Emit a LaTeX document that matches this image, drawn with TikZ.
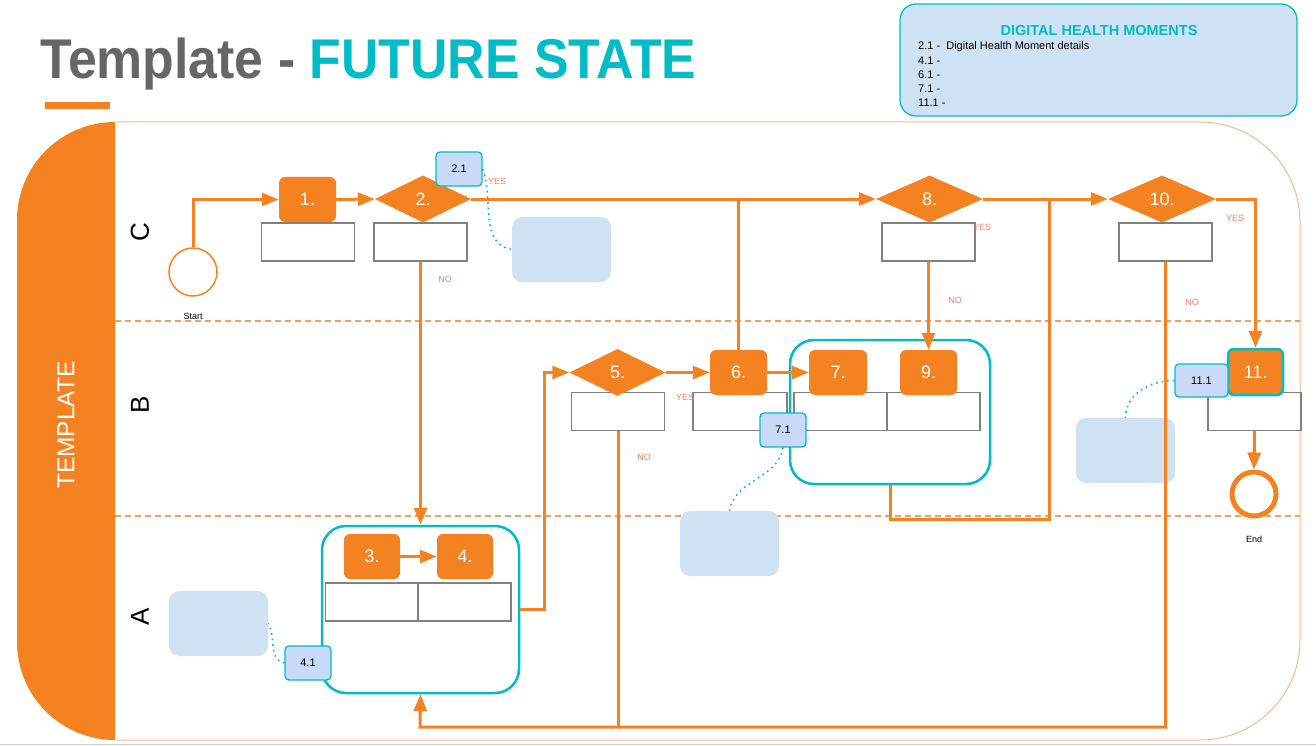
\documentclass[tikz,border=0pt]{standalone}
\usepackage{fontspec}
\setmainfont{Liberation Sans}
\usetikzlibrary{arrows.meta,shapes.geometric,positioning,calc}
\definecolor{orange}{RGB}{245,130,32}
\definecolor{teal}{RGB}{0,188,198}
\definecolor{noteblue}{RGB}{207,226,243}
\definecolor{badgeblue}{RGB}{201,218,248}
\definecolor{titlegray}{RGB}{102,102,102}
\definecolor{yesno}{RGB}{243,128,100}
\definecolor{poolline}{RGB}{248,184,139}
\definecolor{laneline}{RGB}{245,160,90}

\begin{document}
\begin{tikzpicture}[x=1pt, y=-1pt,
    flow/.style={orange, line width=3pt},
    arrowflow/.style={flow, -{Triangle[length=17pt,width=13pt]}},
    task/.style={fill=orange, rounded corners=6pt, minimum width=57pt, minimum height=45pt,
        text=white, font=\fontsize{18}{18}\selectfont},
    gate/.style={diamond, fill=orange, aspect=2, inner sep=0pt, minimum width=96pt,
        minimum height=47pt, text=white, font=\fontsize{18}{18}\selectfont},
    box/.style={draw=gray, line width=1.2pt, fill=white, minimum width=93pt, minimum height=38pt},
    badge/.style={draw=teal, line width=1.3pt, fill=badgeblue, rounded corners=4pt,
        minimum width=46pt, minimum height=34pt, font=\fontsize{11}{11}\selectfont},
    note/.style={fill=noteblue, rounded corners=10pt, minimum width=99pt, minimum height=65pt},
    group/.style={draw=teal, line width=2.5pt, rounded corners=24pt},
    link/.style={teal, line width=1.6pt, dash pattern=on 1.6pt off 4pt},
    answer/.style={text=yesno, font=\fontsize{9}{9}\selectfont},
    lanelabel/.style={rotate=90, font=\fontsize{26}{26}\selectfont}]
    \useasboundingbox (0,0) rectangle (1316,746);

    % title and legend
    \node[anchor=base west, inner sep=0pt, font=\bfseries\fontsize{56}{56}\selectfont] (title) at (40,79)
        {\scalebox{0.925}[1]{\textcolor{titlegray}{Template -} \textcolor{teal}{FUTURE STATE}}};
    \fill[orange] (45,102) rectangle (110,109);
    \node[draw=teal, line width=1.3pt, fill=noteblue, rounded corners=16pt,
        minimum width=397pt, minimum height=112pt] (legend) at (1098.5,60) {};
    \node[text=teal, font=\bfseries\fontsize{14.5}{14.5}\selectfont] (legendtitle) at (1099,31) {DIGITAL HEALTH MOMENTS};
    \node[anchor=west, inner sep=0pt, font=\fontsize{11}{11}\selectfont] (dhm21) at (918,47) {2.1 -\ \ Digital Health Moment details};
    \node[anchor=west, inner sep=0pt, font=\fontsize{11}{11}\selectfont] (dhm41) at (918,61) {4.1 -};
    \node[anchor=west, inner sep=0pt, font=\fontsize{11}{11}\selectfont] (dhm61) at (918,75) {6.1 -};
    \node[anchor=west, inner sep=0pt, font=\fontsize{11}{11}\selectfont] (dhm71) at (918,89) {7.1 -};
    \node[anchor=west, inner sep=0pt, font=\fontsize{11}{11}\selectfont] (dhm111) at (918,103) {11.1 -};

    % pool and lanes
    \fill[orange] (115,122) arc[start angle=270, end angle=180, radius=98] -- (17,642)
        arc[start angle=180, end angle=90, radius=98] -- cycle;
    \draw[poolline, line width=1pt] (115,122) -- (1200,122) arc[start angle=270, end angle=360, radius=100]
        -- (1300,640) arc[start angle=0, end angle=90, radius=100] -- (115,740);
    \draw[black!20, line width=1pt] (0,744.5) -- (1316,744.5);
    \draw[laneline, line width=1.3pt, dash pattern=on 6pt off 4pt] (115,321) -- (1300,321);
    \draw[laneline, line width=1.3pt, dash pattern=on 6pt off 4pt] (115,516) -- (1300,516);
    \node[rotate=90, text=white, font=\fontsize{24.5}{24.5}\selectfont] (pool) at (66,425) {TEMPLATE};
    \node[lanelabel] (laneC) at (140,232) {C};
    \node[lanelabel] (laneB) at (140,405) {B};
    \node[lanelabel] (laneA) at (140,617) {A};

    % lane C
    \node[circle, draw=orange, line width=1.5pt, minimum size=48pt] (start) at (193,272) {};
    \node[below=13pt of start, font=\fontsize{9}{9}\selectfont] (startlabel) {Start};
    \node[box] (b1) at (308,242) {};
    \node[task] (t1) at (307.5,199.5) {1.};
    \node[box] (b2) at (420.5,242) {};
    \node[gate] (g2) at (423,199) {2.};
    \node[note] (note2) at (561.5,249.5) {};
    \node[box] (b8) at (928.5,242) {};
    \node[gate, minimum width=107pt] (g8) at (929.5,199) {8.};
    \node[box] (b10) at (1165.5,242) {};
    \node[gate, minimum width=108pt] (g10) at (1162,199) {10.};

    % lane B
    \node[group, minimum width=200pt, minimum height=144pt] (grpB) at (890,412) {};
    \node[box] (b5) at (618,411.5) {};
    \node[gate] (g5) at (617.5,372.5) {5.};
    \node[box, minimum width=94pt] (b6) at (740,411.5) {};
    \node[task] (t6) at (738.5,372.5) {6.};
    \node[box] (b7) at (840.5,411.5) {};
    \node[box] (b9) at (933.5,411.5) {};
    \node[task, minimum width=58pt] (t7) at (838,372.5) {7.};
    \node[task] (t9) at (928.5,372.5) {9.};
    \node[box] (b11) at (1254.5,411.5) {};
    \node[task, draw=teal, line width=2.5pt, minimum width=55pt, minimum height=46pt] (t11) at (1255.5,372) {11.};
    \node[note] (note11) at (1125.5,450.5) {};
    \node[circle, draw=orange, line width=5pt, minimum size=44pt] (end) at (1254,494) {};
    \node[below=14pt of end, font=\fontsize{9}{9}\selectfont] (endlabel) {End};

    % lane A
    \node[group, minimum width=197pt, minimum height=167pt] (grpA) at (420.5,609.5) {};
    \node[box] (b3) at (372,602) {};
    \node[box] (b4) at (464.5,602) {};
    \node[task, minimum width=56pt] (t3) at (372,556.5) {3.};
    \node[task, minimum width=56pt] (t4) at (465,556.5) {4.};
    \node[note] (note4) at (218.5,623.5) {};
    \node[note] (note7) at (729.5,543.5) {};

    % connectors
    \coordinate (loopback) at (420,727);
    \coordinate (merge8) at (1049,199);
    \draw[arrowflow] (start.north) |- (t1.west);
    \draw[arrowflow] (t1.east) -- (g2.west);
    \draw[arrowflow] (g2.east) -- (g8.west);
    \draw[arrowflow] (b2.south) -- (grpA.north);
    \draw[arrowflow] (t3.east) -- (t4.west);
    \draw[arrowflow] (grpA.east) -- ++(24,0) |- (g5.west);
    \draw[arrowflow] (g5.east) -- (t6.west);
    \draw[flow] (t6.north) -- (t6.north |- g2.east);
    \draw[arrowflow] (t6.east) -- (t7.west);
    \draw[flow] (b5.south) -- (b5.south |- loopback);
    \draw[arrowflow] (b8.south) -- (t9.north);
    \draw[flow] (grpB.south) -- ++(0,34) -| (merge8);
    \draw[arrowflow] (g8.east) -- (g10.west);
    \draw[arrowflow] (g10.east) -| (t11.north);
    \draw[arrowflow] (b10.south) |- (loopback) -- (grpA.south);
    \draw[arrowflow] (b11.south) -- (end.north);

    % answers
    \node[answer] (yes2) at (497,181) {YES};
    \node[answer] (no2) at (445,279) {NO};
    \node[answer] (yes5) at (685,397) {YES};
    \node[answer] (no5) at (644,457) {NO};
    \node[answer] (yes8) at (982,227) {YES};
    \node[answer] (no8) at (955,300) {NO};
    \node[answer] (yes10) at (1235,218) {YES};
    \node[answer] (no10) at (1192,302) {NO};

    % digital health moments
    \node[badge] (m21) at (459,169) {2.1};
    \node[badge] (m41) at (308,663) {4.1};
    \node[badge] (m71) at (783,430) {7.1};
    \node[badge, minimum width=53pt, minimum height=33pt] (m111) at (1201.5,380.5) {11.1};
    \draw[link] (m21.east) to[out=-70, in=170] (note2.west);
    \draw[link] (m41.west) to[out=170, in=-60] (note4.east);
    \draw[link] (m71.south) to[out=-100, in=80] (note7.north);
    \draw[link] (m111.west) to[out=180, in=90] (note11.north);
\end{tikzpicture}
\end{document}
